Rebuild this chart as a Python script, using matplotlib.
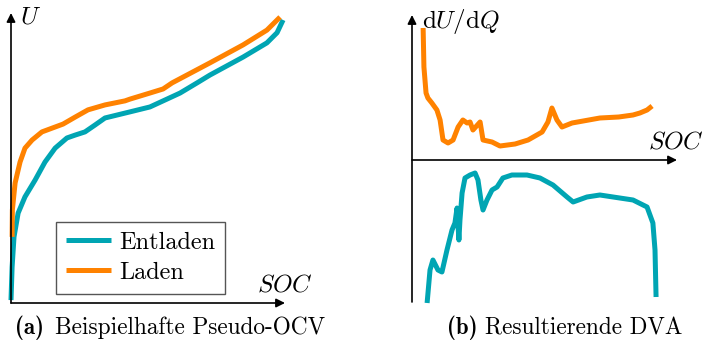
import matplotlib.pyplot as plt

plt.rcParams['font.family'] = 'serif'
plt.rcParams['font.serif'] = ['cmr10', 'DejaVu Serif']
plt.rcParams['mathtext.fontset'] = 'cm'
plt.rcParams['axes.unicode_minus'] = False

teal = '#00a5b3'
orange = '#ff8200'

# Pseudo-OCV (SOC in %, U beliebige Einheit)
soc_laden = [0.4, 0.5, 1.5, 3.3, 5.1, 7.7, 11.3, 15.0, 19.0, 23.4, 28.1, 34.3, 41.6, 43.4,
             50.7, 55.5, 58.8, 62.8, 72.6, 84.7, 93.4, 98.2]
u_laden = [22.8, 32.1, 41.4, 48.6, 53.4, 56.2, 59.0, 60.3, 61.7, 64.1, 66.6, 68.3, 69.7, 70.3,
           72.4, 73.8, 75.9, 77.9, 82.8, 89.0, 94.1, 98.6]
soc_entladen = [0.0, 0.4, 1.1, 2.6, 5.1, 8.8, 12.4, 16.1, 20.4, 23.4, 27.0, 30.7, 34.3, 43.4,
                50.7, 56.9, 61.7, 67.9, 72.6, 84.7, 93.4, 97.1, 99.3]
u_entladen = [1.0, 12.4, 22.8, 31.0, 36.6, 42.4, 48.6, 53.4, 56.9, 57.9, 59.0, 61.4, 63.8, 65.9,
              67.6, 70.3, 72.4, 75.9, 78.6, 84.8, 89.7, 93.2, 97.6]

# DVA (SOC in %, dU/dQ beliebige Einheit)
dva_soc_laden = [4.2, 4.5, 5.3, 6.0, 7.5, 9.4, 10.6, 11.7, 13.6, 15.5, 17.4, 19.2, 20.8, 21.9,
                 23.0, 25.7, 26.8, 30.2, 33.2, 38.9, 43.8, 49.1, 51.3, 52.8, 54.7, 56.6,
                 60.4, 70.9, 78.0, 83.4, 86.0, 88.7, 90.6]
dva_laden = [13.2, 9.3, 6.7, 6.2, 5.7, 5.0, 4.0, 2.0, 1.7, 2.0, 3.3, 4.0, 3.7, 3.8,
             3.0, 3.8, 2.0, 1.8, 1.4, 1.6, 2.0, 2.8, 3.8, 5.2, 4.0, 3.3,
             3.7, 4.2, 4.3, 4.5, 4.7, 5.0, 5.4]
dva_soc_entladen = [5.7, 6.8, 7.9, 9.8, 11.3, 13.2, 15.1, 16.2, 17.0, 17.7, 18.1, 18.9, 20.0,
                    21.9, 23.8, 24.9, 26.0, 26.8, 28.3, 30.2, 32.1, 34.3, 37.7, 43.4, 48.3,
                    53.2, 58.5, 60.8, 66.0, 70.9, 83.4, 88.7, 90.9, 91.7, 92.1]
dva_entladen = [-14.3, -11.0, -10.0, -11.0, -11.2, -9.0, -7.0, -6.3, -4.8, -8.0, -6.0, -3.3,
                -1.8, -1.5, -1.3, -2.0, -4.0, -5.0, -4.0, -3.0, -2.7, -1.8, -1.5, -1.5, -1.8,
                -2.5, -3.7, -4.2, -3.7, -3.5, -4.0, -4.7, -6.3, -9.0, -13.7]

fig = plt.figure(figsize=(7.06, 3.43), dpi=100)

W, H = 706, 343
ax1 = fig.add_axes([11 / W, 1 - 303 / H, 274 / W, 290 / H])
ax2 = fig.add_axes([412 / W, 1 - 302 / H, 265 / W, 287 / H])

arrow = dict(arrowstyle='-|>', color='k', lw=1.2, mutation_scale=13, shrinkA=0, shrinkB=0)

# links: Pseudo-OCV
ax1.plot(soc_entladen, u_entladen, color=teal, lw=3.6, solid_capstyle='butt',
         solid_joinstyle='round', label='Entladen', clip_on=False)
ax1.plot(soc_laden, u_laden, color=orange, lw=3.6, solid_capstyle='butt',
         solid_joinstyle='round', label='Laden', clip_on=False)
ax1.set_xlim(0, 100)
ax1.set_ylim(0, 100)
ax1.axis('off')
ax1.annotate('', xy=(1, 0), xytext=(0, 0), xycoords='axes fraction', arrowprops=arrow)
ax1.annotate('', xy=(0, 1), xytext=(0, 0), xycoords='axes fraction', arrowprops=arrow)
ax1.text(0.033, 0.985, '$U$', transform=ax1.transAxes, ha='left', va='center', fontsize=18)
ax1.text(1.10, 0.062, '$SOC$', transform=ax1.transAxes, ha='right', va='center', fontsize=18)
leg = ax1.legend(loc='upper left', bbox_to_anchor=(0.164, 0.279), borderaxespad=0,
                 fontsize=17.5, handlelength=1.85, handletextpad=0.35, fancybox=False,
                 framealpha=1, edgecolor='#555555', borderpad=0.4, labelspacing=0.32)
leg.get_frame().set_linewidth(1.0)

# rechts: DVA
ax2.plot(dva_soc_laden, dva_laden, color=orange, lw=3.6, solid_capstyle='butt',
         solid_joinstyle='round', clip_on=False)
ax2.plot(dva_soc_entladen, dva_entladen, color=teal, lw=3.6, solid_capstyle='butt',
         solid_joinstyle='round', clip_on=False)
ax2.set_xlim(0, 100)
ax2.set_ylim(-14.2, 14.5)
ax2.axis('off')
ax2.annotate('', xy=(1, 0), xytext=(0, 0), xycoords=('axes fraction', 'data'), arrowprops=arrow)
ax2.annotate('', xy=(0, 1), xytext=(0, 0), xycoords='axes fraction', arrowprops=arrow)
ax2.text(0.036, 0.976, r'$\mathrm{d}U/\mathrm{d}Q$', transform=ax2.transAxes,
         ha='left', va='center', fontsize=18)
ax2.text(1.098, 0.557, '$SOC$', transform=ax2.transAxes, ha='right', va='center', fontsize=18)

# Unterschriften
cy = 1 - 328 / H
fig.text(15 / W, cy, '(a)', family='cmb10', ha='left', va='center', fontsize=16.5)
fig.text(55 / W, cy, 'Beispielhafte Pseudo-OCV', ha='left', va='center', fontsize=16.8)
fig.text(447 / W, cy, '(b)', family='cmb10', ha='left', va='center', fontsize=16.5)
fig.text(485 / W, cy, 'Resultierende DVA', ha='left', va='center', fontsize=16.8)

fig.savefig('out.png', dpi=100)
